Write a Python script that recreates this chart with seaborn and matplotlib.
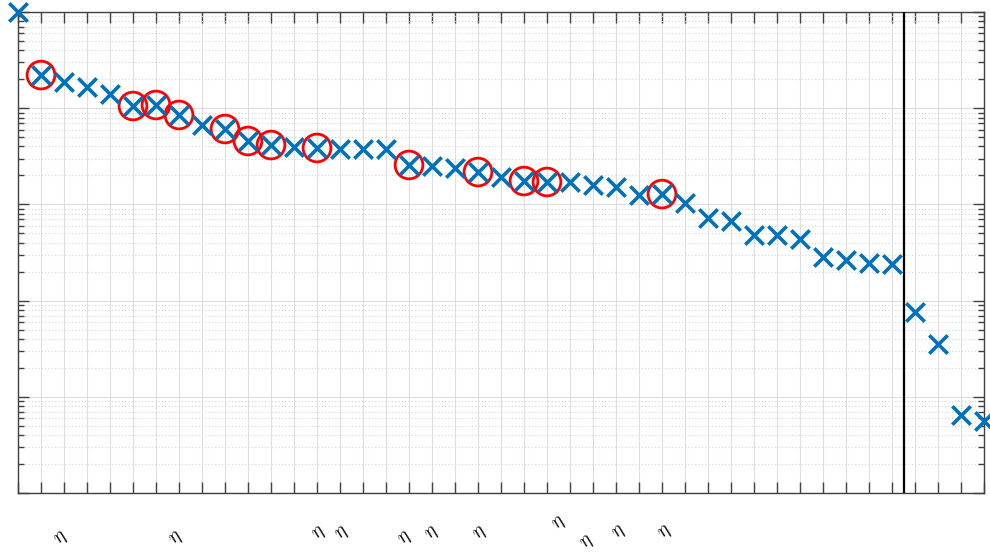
import numpy as np
import pandas as pd
import matplotlib
matplotlib.use("Agg")
import matplotlib.pyplot as plt
import matplotlib.ticker as mticker
import seaborn as sns

# ---- data ----
values = [1.0, 0.221, 0.187, 0.166, 0.1405, 0.1054, 0.108, 0.0850, 0.0669, 0.0608,
          0.0456, 0.0414, 0.0395, 0.0386, 0.0377, 0.0377, 0.0380, 0.0257, 0.0251, 0.0239,
          0.0217, 0.0193, 0.0175, 0.0171, 0.0170, 0.0159, 0.0152, 0.01253, 0.0128, 0.01034,
          0.00723, 0.00672, 0.00481, 0.00478, 0.00437, 0.00284, 0.00264, 0.00246, 0.00240,
          0.000760, 0.000354, 6.47e-5, 5.60e-5]
index = list(range(1, len(values) + 1))
circled = [2, 6, 7, 8, 10, 11, 12, 14, 18, 21, 23, 24, 29]
cutoff = 39.5
label_x = [2.91, 7.91, 14.09, 15.09, 17.83, 19.04, 21.09, 24.52, 25.74, 27.13, 29.13]
label_y = [-0.094, -0.094, -0.083, -0.083, -0.094, -0.083, -0.083, -0.062, -0.102, -0.081, -0.081]
label_text = r"$\eta$"

df = pd.DataFrame({"i": index, "v": values})
dfc = df[df["i"].isin(circled)]

sns.set_style("white")
plt.rcParams["mathtext.fontset"] = "cm"

fig = plt.figure(figsize=(9.9, 5.54), dpi=100)
ax = fig.add_axes([18 / 990, 61 / 554, 966 / 990, 481 / 554])

ax.set_yscale("log")
ax.set_xlim(1, 43)
ax.set_ylim(1e-5, 1e0)

# grid
ax.grid(True, which="major", axis="both", color="#dedede", linewidth=0.8, linestyle="-")
ax.grid(True, which="minor", axis="y", color="#d6d6d6", linewidth=0.8, linestyle=(0, (1, 2)))
ax.set_axisbelow(True)

sns.scatterplot(data=dfc, x="i", y="v", ax=ax, marker="o", s=400,
                linewidth=2.0, legend=False, clip_on=False, zorder=3)
circ = ax.collections[-1]
circ.set_facecolor("none")
circ.set_edgecolor("#ff0000")

sns.scatterplot(data=df, x="i", y="v", ax=ax, marker="x", s=175, color="#0072BD",
                linewidth=2.6, legend=False, clip_on=False, zorder=4)

ax.axvline(cutoff, color="black", linewidth=1.6, zorder=5)

# ticks
ax.xaxis.set_major_locator(mticker.FixedLocator(index))
ax.xaxis.set_major_formatter(mticker.NullFormatter())
ax.yaxis.set_major_locator(mticker.LogLocator(base=10, numticks=10))
ax.yaxis.set_minor_locator(mticker.LogLocator(base=10, subs=np.arange(2, 10), numticks=20))
ax.yaxis.set_major_formatter(mticker.NullFormatter())
ax.yaxis.set_minor_formatter(mticker.NullFormatter())
ax.tick_params(which="major", direction="in", length=8, width=1.0, color="#404040",
               top=True, right=True, bottom=True, left=True)
ax.tick_params(which="minor", direction="in", length=4, width=1.0, color="#404040",
               top=False, right=True, bottom=False, left=True)
ax.tick_params(axis="x", which="minor", bottom=False, top=False)

for s in ax.spines.values():
    s.set_color("#404040")
    s.set_linewidth(1.0)

ax.set_xlabel("")
ax.set_ylabel("")

trans = ax.get_xaxis_transform()
for lx, ly in zip(label_x, label_y):
    ax.text(lx, ly, label_text, transform=trans, rotation=45, fontsize=14,
            ha="center", va="center", color="black")

fig.savefig("out.png", dpi=100)
